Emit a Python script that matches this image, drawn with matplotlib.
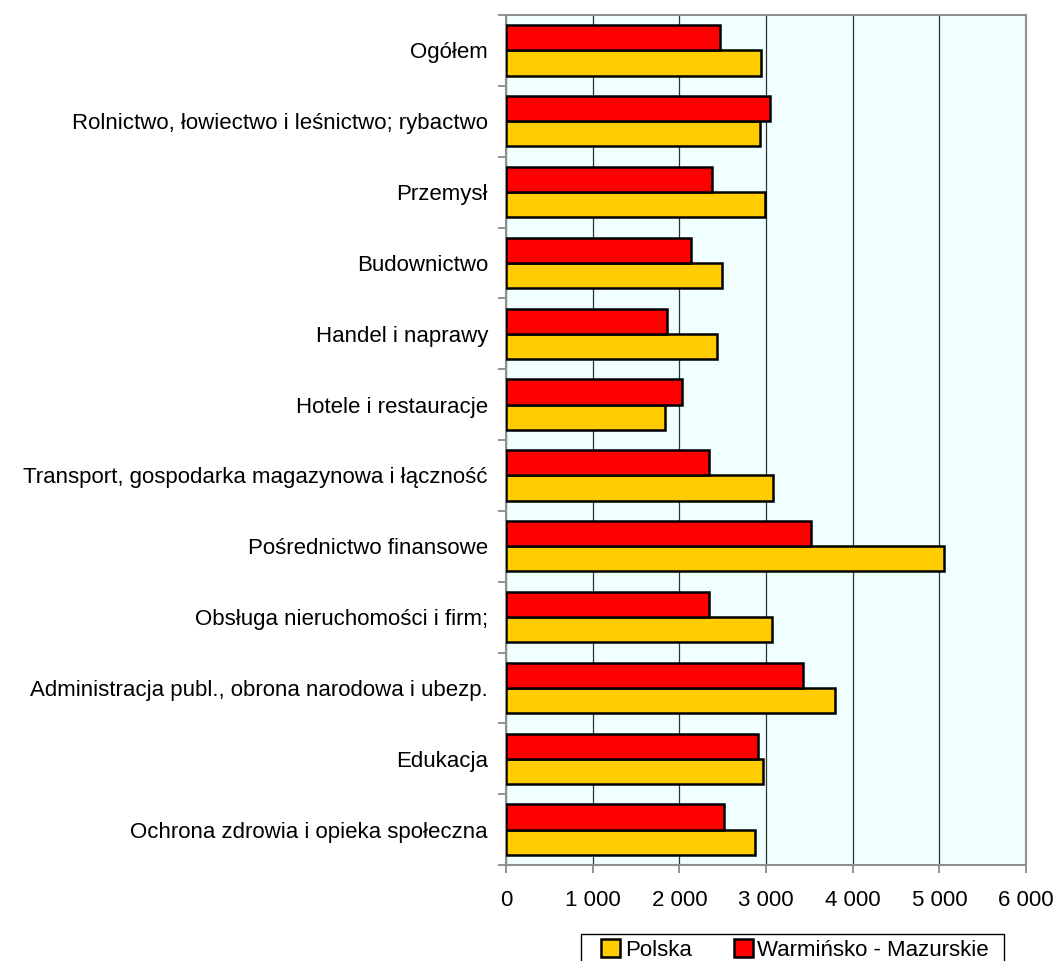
import numpy as np
import matplotlib.pyplot as plt
from matplotlib.patches import Rectangle
from matplotlib.ticker import FuncFormatter

plt.rcParams['font.family'] = ['Liberation Sans', 'DejaVu Sans']

categories = [
    "Ogółem",
    "Rolnictwo, łowiectwo i leśnictwo; rybactwo",
    "Przemysł",
    "Budownictwo",
    "Handel i naprawy",
    "Hotele i restauracje",
    "Transport, gospodarka magazynowa i łączność",
    "Pośrednictwo finansowe",
    "Obsługa nieruchomości i firm;",
    "Administracja publ., obrona narodowa i ubezp.",
    "Edukacja",
    "Ochrona zdrowia i opieka społeczna",
]
polska = [2946, 2925, 2983, 2493, 2439, 1840, 3078, 5052, 3074, 3801, 2962, 2875]
warminsko = [2468, 3041, 2376, 2140, 1853, 2032, 2339, 3515, 2339, 3432, 2904, 2513]
x_ticks = [0, 1000, 2000, 3000, 4000, 5000, 6000]

fs = 16

fig = plt.figure(figsize=(10.56, 9.61), dpi=100)
ax = fig.add_axes([506 / 1056, 1 - 865 / 961, 520 / 1056, 850 / 961])
ax.set_facecolor('#F0FFFF')

y = np.arange(len(categories))
h = 0.355
ax.barh(y + h / 2, polska, height=h, color='#FFCC00', edgecolor='black',
        linewidth=1.8, label='Polska', zorder=3)
ax.barh(y - h / 2, warminsko, height=h, color='#FF0000', edgecolor='black',
        linewidth=1.8, label='Warmińsko - Mazurskie', zorder=3)

ax.set_xlim(0, 6000)
ax.set_ylim(len(categories) - 0.5, -0.5)
ax.set_xticks(x_ticks)
ax.xaxis.set_major_formatter(FuncFormatter(lambda v, p: f"{int(v):,}".replace(",", " ")))
ax.grid(axis='x', color='#303030', linewidth=0.9, zorder=1)

# category labels between boundary ticks
ax.set_yticks(y)
ax.set_yticklabels(categories, fontsize=fs)
ax.tick_params(axis='y', length=0, pad=13)
ax.set_yticks(np.arange(-0.5, len(categories)), minor=True)
ax.tick_params(axis='y', which='minor', length=6, width=1.2, color='#808080', direction='out')
ax.tick_params(axis='x', labelsize=fs, length=6, width=1.2, color='#808080', pad=12)

for s in ax.spines.values():
    s.set_color('#909090')
    s.set_linewidth(1.5)

# legend, its box runs past the bottom edge like in the original
handles, labels = ax.get_legend_handles_labels()
fig.legend(handles, labels, loc='center', ncol=2,
           bbox_to_anchor=(795 / 1056, 1 - 950 / 961), fontsize=fs,
           frameon=False, handlelength=0.85, handleheight=0.85,
           handletextpad=0.2, columnspacing=1.9, borderaxespad=0)
fig.patches.append(Rectangle((581 / 1056, -0.02), 423 / 1056, 0.02 + 27 / 961,
                             transform=fig.transFigure, fill=False,
                             edgecolor='black', linewidth=1.0))

fig.savefig('out.png', dpi=100)
